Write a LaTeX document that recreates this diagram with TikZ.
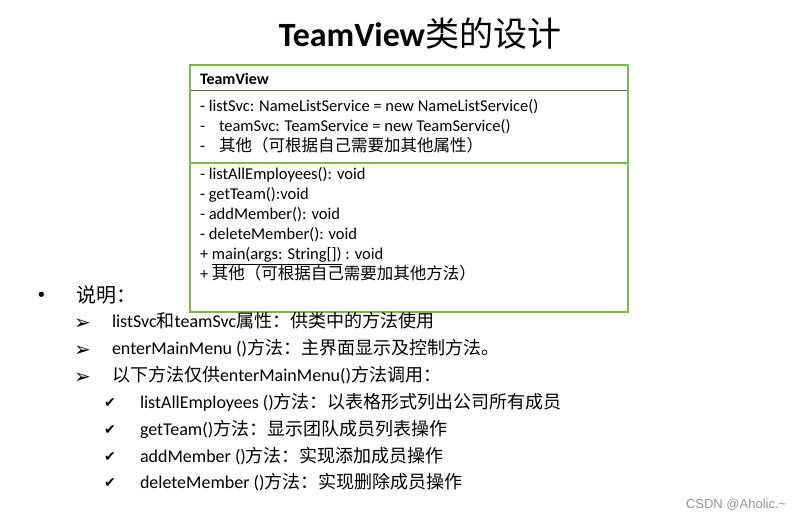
\documentclass[tikz,border=0pt]{standalone}
\usepackage{fontspec}
\setmainfont{Carlito}
\newfontfamily\zhfont{Noto Sans CJK SC}
\newfontfamily\symfont{DejaVu Sans}
\newfontfamily\wmfont{Liberation Sans}
\newcommand\zh[1]{{\zhfont #1}}
\definecolor{boxgreen}{RGB}{122,186,72}
\definecolor{sepdark}{RGB}{90,105,80}
\definecolor{wmgray}{RGB}{150,150,150}
\tikzset{
  txt/.style={anchor=base west, inner sep=0pt, outer sep=0pt},
  boxtxt/.style={txt, font=\fontsize{16.5}{20}\selectfont},
  bultxt/.style={txt, font=\fontsize{18}{21}\selectfont},
  arrtxt/.style={txt, font=\symfont\fontsize{20}{22}\selectfont},
  cktxt/.style={txt, font=\symfont\fontsize{14}{18}\selectfont},
  boxline/.style={draw=boxgreen, line width=2pt},
}
\begin{document}
\begin{tikzpicture}[x=1pt,y=-1pt]
\useasboundingbox[fill=white] (0,0) rectangle (801,518);
% title
\node[anchor=base, inner sep=0pt, font=\fontsize{34}{40}\selectfont] (title) at (420,47)
  {\textbf{TeamView}\zh{类的设计}};
% class box
\draw[boxline] (190,65) rectangle (628,312);
\draw[sepdark, line width=1pt] (191,91) -- (627,91);
\draw[boxline] (191,163) -- (627,163);
\node[txt, font=\bfseries\fontsize{16}{20}\selectfont] (cname) at (200,85) {TeamView};
\node[boxtxt] (a1) at (200,112) {- listSvc: NameListService = new NameListService()};
\node[boxtxt] (a2d) at (200,132) {-};
\node[boxtxt] (a2) at (219,132) {teamSvc: TeamService = new TeamService()};
\node[boxtxt] (a3d) at (200,152) {-};
\node[boxtxt] (a3) at (219,152) {\zh{其他（可根据自己需要加其他属性）}};
\node[boxtxt] (m1) at (200,180) {- listAllEmployees(): void};
\node[boxtxt] (m2) at (200,200) {- getTeam():void};
\node[boxtxt] (m3) at (200,220) {- addMember(): void};
\node[boxtxt] (m4) at (200,240) {- deleteMember(): void};
\node[boxtxt] (m5) at (200,260) {+ \underline{main(args: String[])} : void};
\node[boxtxt] (m6) at (200,280) {+ \zh{其他（可根据自己需要加其他方法）}};
% explanation list
\node[txt, font=\symfont\fontsize{18}{20}\selectfont] (bul) at (36,302) {•};
\node[txt, font=\zhfont\fontsize{20}{24}\selectfont] (shuoming) at (76,303) {说明：};
\node[arrtxt] (ar1) at (74,330) {➢};
\node[bultxt] (t1) at (112,328) {listSvc\zh{和}teamSvc\zh{属性：供类中的方法使用}};
\node[arrtxt] (ar2) at (74,357) {➢};
\node[bultxt] (t2) at (112,355) {enterMainMenu ()\zh{方法：主界面显示及控制方法。}};
\node[arrtxt] (ar3) at (74,384) {➢};
\node[bultxt] (t3) at (112,382) {\zh{以下方法仅供}enterMainMenu()\zh{方法调用：}};
\node[cktxt] (ck1) at (104,408) {✔};
\node[bultxt] (c1) at (140,409) {listAllEmployees ()\zh{方法：以表格形式列出公司所有成员}};
\node[cktxt] (ck2) at (104,435) {✔};
\node[bultxt] (c2) at (140,436) {getTeam()\zh{方法：显示团队成员列表操作}};
\node[cktxt] (ck3) at (104,462) {✔};
\node[bultxt] (c3) at (140,463) {addMember ()\zh{方法：实现添加成员操作}};
\node[cktxt] (ck4) at (104,488) {✔};
\node[bultxt] (c4) at (140,489) {deleteMember ()\zh{方法：实现删除成员操作}};
% watermark
\node[txt, font=\wmfont\fontsize{13}{15}\selectfont, text=wmgray] (wm) at (686,508) {CSDN @Aholic.\textasciitilde};
\end{tikzpicture}
\end{document}
